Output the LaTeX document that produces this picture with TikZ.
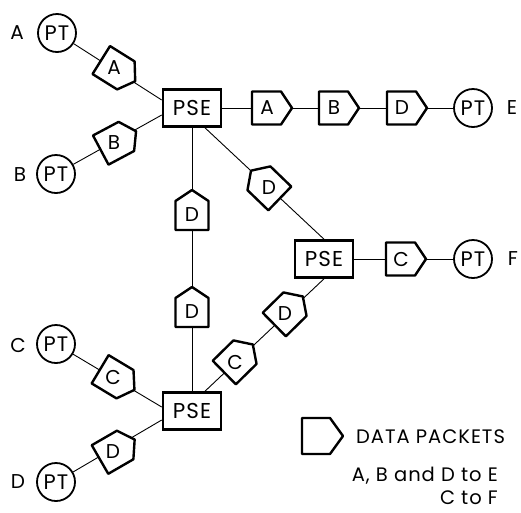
\documentclass[tikz,border=0pt]{standalone}
\usepackage{fontspec}
\setmainfont[LetterSpace=5]{Poppins}
\newcommand\packetat[4]{%
  \begin{scope}[shift={#2},rotate=#3]
    \draw[pktshape] (-15,-16.5) -- (14,-16.5) -- (25,0) -- (14,16.5) -- (-15,16.5) -- cycle;
  \end{scope}
  \node[pkttext] (#1) at #2 {#4};
}
\begin{document}
\begin{tikzpicture}[x=1pt,y=-1pt,
  pt/.style={circle, draw, line width=1.8pt, minimum size=38pt, inner sep=0pt, font=\fontsize{21}{21}\selectfont},
  pse/.style={rectangle, draw, line width=2.6pt, minimum width=58pt, minimum height=37pt, inner sep=0pt, fill=white, font=\fontsize{21.5}{21.5}\selectfont},
  link/.style={line width=0.9pt},
  pktshape/.style={draw, line width=2.4pt, fill=white, line join=round},
  pkttext/.style={inner sep=0pt, font=\fontsize{20}{20}\selectfont},
  lbl/.style={inner sep=0pt, font=\fontsize{20}{20}\selectfont},
  legtext/.style={inner sep=0pt, font=\fontsize{19.5}{23}\selectfont}]
\useasboundingbox (0,0) rectangle (521,512);
% terminals
\node[pt] (ptA) at (57,33) {PT};
\node[pt] (ptB) at (56,174) {PT};
\node[pt] (ptC) at (56,344) {PT};
\node[pt] (ptD) at (56,482) {PT};
\node[pt] (ptE) at (473,108) {PT};
\node[pt] (ptF) at (473,259) {PT};
% labels
\node[lbl] (lA) at (17,33) {A};
\node[lbl] (lB) at (20,175) {B};
\node[lbl] (lC) at (18,345) {C};
\node[lbl] (lD) at (18,482) {D};
\node[lbl] (lE) at (512,108) {E};
\node[lbl] (lF) at (513,259) {F};
% switching exchanges
\node[pse] (s1) at (192,108) {PSE};
\node[pse] (s2) at (324,259) {PSE};
\node[pse] (s3) at (192,411) {PSE};
% connectors
\draw[link] (ptA) -- ([yshift=8pt]s1.west);
\draw[link] (ptB) -- ([yshift=-7pt]s1.west);
\draw[link] (ptC) -- ([yshift=4pt]s3.west);
\draw[link] (ptD) -- ([yshift=-9pt]s3.west);
\draw[link] (s1) -- (ptE);
\draw[link] (s2) -- (ptF);
\draw[link] (s1) -- (s3);
\draw[link] ([xshift=13pt]s1.south) -- (s2.north);
\draw[link] ([xshift=13pt]s3.north) -- (s2.south);
% packets
\packetat{pA}{(114,68)}{-32}{A}
\packetat{pB}{(114,143)}{28}{B}
\packetat{pC}{(113,377)}{-31}{C}
\packetat{pD}{(113,452)}{30}{D}
\packetat{pE1}{(267,108)}{0}{A}
\packetat{pE2}{(334,108)}{0}{B}
\packetat{pE3}{(402,108)}{0}{D}
\packetat{pF}{(401,259)}{0}{C}
\packetat{pV1}{(192,215)}{90}{D}
\packetat{pV2}{(192,312)}{90}{D}
\packetat{pQ1}{(269,188)}{136}{D}
\packetat{pQ2}{(285,314)}{44.5}{D}
\packetat{pQ3}{(235,362)}{44.5}{C}
% legend
\draw[pktshape] (302,418) -- (330,418) -- (343,436) -- (330,454) -- (302,454) -- cycle;
\coordinate (leg) at (316,436);
\node[legtext, anchor=west] (legtxt) at (356,437) {DATA PACKETS};
\node[legtext, anchor=north east, align=right] (legnote) at (498,467) {A, B and D to E\\C to F};
\end{tikzpicture}
\end{document}
